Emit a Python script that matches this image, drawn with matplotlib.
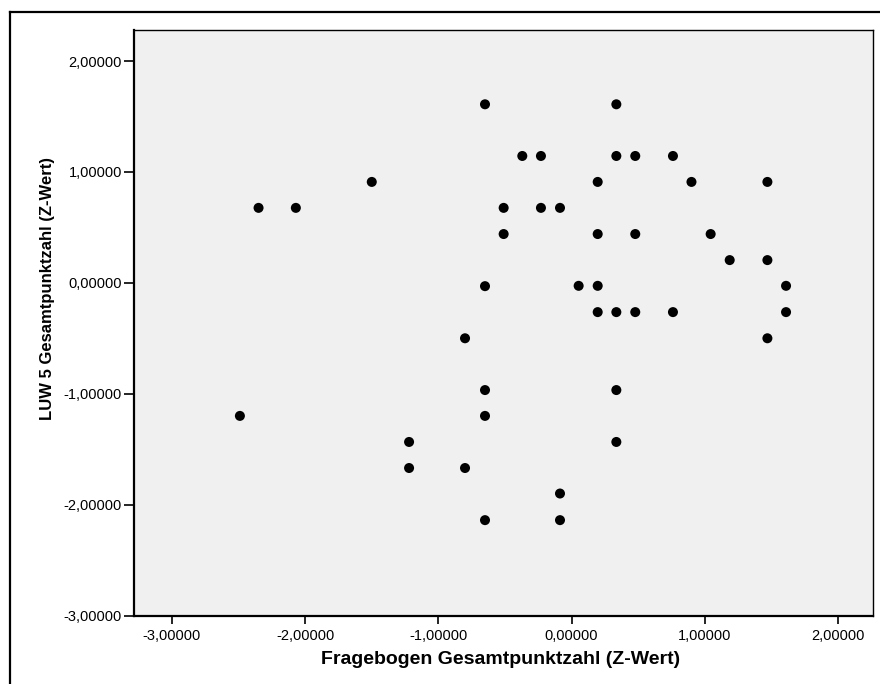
import matplotlib

matplotlib.use("Agg")
import matplotlib.pyplot as plt
from matplotlib.lines import Line2D
from matplotlib.ticker import FuncFormatter


# z-scores
fragebogen_z = [
    -2.49, -2.35, -2.07, -1.50, -1.22, -1.22,
    -0.80, -0.80, -0.65, -0.65, -0.65, -0.65, -0.65,
    -0.51, -0.51, -0.37, -0.23, -0.23, -0.087, -0.087, -0.087,
    0.053, 0.196, 0.196, 0.196, 0.196,
    0.336, 0.336, 0.336, 0.336, 0.336,
    0.478, 0.478, 0.478, 0.761, 0.761, 0.90,
    1.044, 1.187, 1.47, 1.47, 1.47, 1.61, 1.61,
]
luw5_z = [
    -1.20, 0.676, 0.676, 0.91, -1.435, -1.67,
    -0.50, -1.67, 1.61, -0.03, -0.967, -1.20, -2.14,
    0.676, 0.44, 1.144, 1.144, 0.676, 0.676, -1.90, -2.14,
    -0.027, 0.91, 0.44, -0.027, -0.264,
    1.61, 1.144, -0.264, -0.967, -1.435,
    1.144, 0.44, -0.264, 1.144, -0.264, 0.91,
    0.44, 0.205, 0.91, 0.205, -0.50, -0.027, -0.264,
]

x_ticks = [-3, -2, -1, 0, 1, 2]
y_ticks = [-3, -2, -1, 0, 1, 2]
x_label = "Fragebogen Gesamtpunktzahl (Z-Wert)"
y_label = "LUW 5 Gesamtpunktzahl (Z-Wert)"

plt.rcParams["font.family"] = ["Liberation Sans", "DejaVu Sans"]


def _comma_fmt(value, _pos):
    return f"{value:.5f}".replace(".", ",")


fig = plt.figure(figsize=(8.8, 6.84), dpi=100)
ax = fig.add_axes([134 / 880, 1 - 615.5 / 684, (873.3 - 134) / 880, (615.5 - 30) / 684])
ax.set_facecolor("#f0f0f0")

ax.scatter(fragebogen_z, luw5_z, s=52, color="black", edgecolors="none", zorder=3)

ax.set_xlim(-3.285, 2.265)
ax.set_ylim(-3.0, 2.28)
ax.set_xticks(x_ticks)
ax.set_yticks(y_ticks)
ax.xaxis.set_major_formatter(FuncFormatter(_comma_fmt))
ax.yaxis.set_major_formatter(FuncFormatter(_comma_fmt))
ax.tick_params(axis="both", labelsize=10.5, width=1.2, colors="black")
ax.tick_params(axis="x", length=6, pad=3.5)
ax.tick_params(axis="y", length=7.5, pad=1.2)

for side in ("top", "right"):
    ax.spines[side].set_linewidth(1.0)
for side in ("left", "bottom"):
    ax.spines[side].set_linewidth(1.6)

ax.set_xlabel(x_label, fontsize=14, fontweight="bold")
ax.set_ylabel(y_label, fontsize=12, fontweight="bold")
ax.xaxis.set_label_coords(0.496, -0.06)
ax.yaxis.set_label_coords(-0.107, 0.559)

# outer frame (left and top edges only, as in the reference)
fig.add_artist(Line2D([10 / 880, 10 / 880], [0, 1 - 12 / 684], transform=fig.transFigure,
                      color="black", linewidth=1.6))
fig.add_artist(Line2D([10 / 880, 1], [1 - 12 / 684, 1 - 12 / 684], transform=fig.transFigure,
                      color="black", linewidth=1.6))

fig.savefig("out.png", dpi=100)
plt.close(fig)
